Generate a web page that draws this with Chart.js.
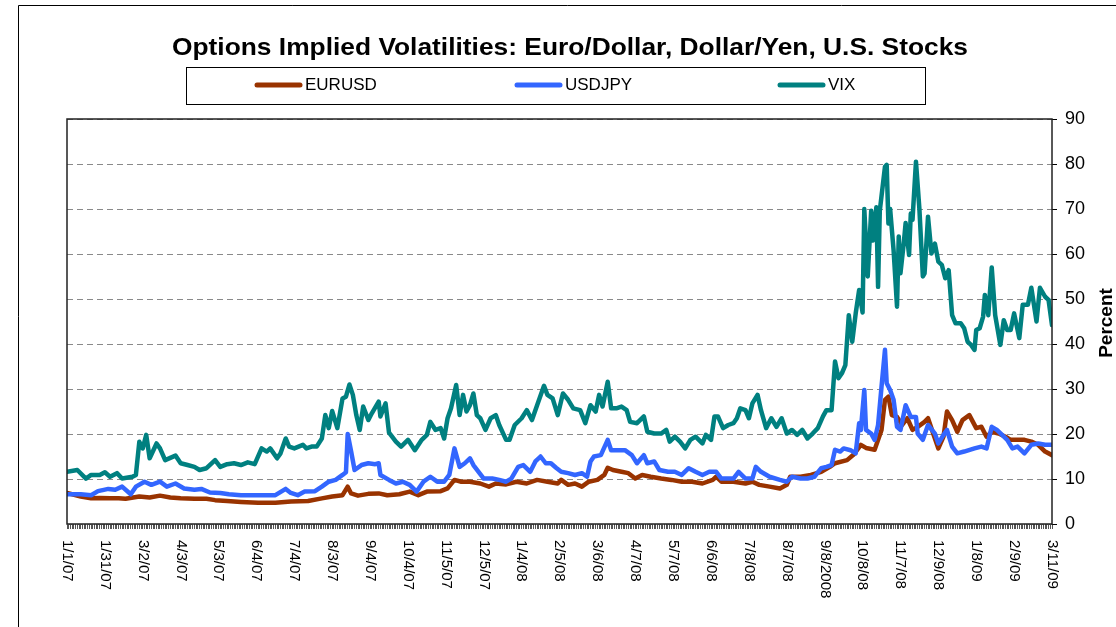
<!DOCTYPE html>
<html lang="en">
<head>
    <meta charset="UTF-8">
    <title>Options Implied Volatilities</title>
    <script src="https://cdn.jsdelivr.net/npm/chart.js"></script>
    <style>
        body { margin: 0; background: #fff; }
    </style>
</head>
<body>
    <canvas id="volChart" width="1116" height="627"></canvas>

    <script>
        // x values are trading-day index (0 = 1/1/07, 572 = 3/11/09), a date label every 22 days
        const tickLabels = ['1/1/07', '1/31/07', '3/2/07', '4/3/07', '5/3/07', '6/4/07', '7/4/07', '8/3/07',
            '9/4/07', '10/4/07', '11/5/07', '12/5/07', '1/4/08', '2/5/08', '3/6/08', '4/7/08', '5/7/08',
            '6/6/08', '7/8/08', '8/7/08', '9/8/2008', '10/8/08', '11/7/08', '12/9/08', '1/8/09', '2/9/09', '3/11/09'];
        const labelEvery = 22;
        const lastDay = 572;
        const yTicks = [0, 10, 20, 30, 40, 50, 60, 70, 80, 90];

        const eurDays = [0, 8, 14, 19, 25, 30, 34, 42, 48, 54, 60, 66, 74, 81, 86, 93, 101, 111, 121, 130, 140, 148, 154, 160, 163, 165, 169, 175, 181, 186,
            193, 199, 204, 209, 217, 221, 225, 229, 234, 240, 245, 249, 255, 261, 267, 273, 279, 285, 287, 291, 295, 299, 303, 308, 312, 314, 317, 322, 326, 330,
            334, 339, 345, 351, 357, 363, 369, 375, 377, 380, 387, 394, 398, 402, 408, 414, 418, 420, 426, 432, 438, 443, 446, 453, 457, 461, 464, 469, 473, 475,
            477, 479, 482, 485, 488, 491, 494, 498, 500, 503, 506, 509, 511, 514, 517, 520, 524, 528, 531, 534, 537, 541, 545, 548, 552, 556, 560, 564, 568, 572];
        const eurVals = [6.9, 6.1, 5.7, 5.8, 5.7, 5.7, 5.6, 6.1, 5.9, 6.3, 5.9, 5.7, 5.6, 5.6, 5.3, 5.1, 4.9, 4.7, 4.7, 5.0, 5.1, 5.7, 6.1, 6.4, 8.3, 6.8, 6.3, 6.7, 6.8, 6.4,
            6.6, 7.2, 6.4, 7.2, 7.3, 7.9, 9.8, 9.4, 9.4, 9.0, 8.3, 9.0, 8.8, 9.4, 9.0, 9.8, 9.4, 9.0, 9.8, 8.7, 9.0, 8.3, 9.4, 9.8, 10.9, 12.5, 12.0, 11.6, 11.3, 10.1,
            10.9, 10.5, 10.1, 9.8, 9.4, 9.4, 9.0, 9.8, 10.5, 9.4, 9.4, 9.0, 9.4, 8.7, 8.3, 7.9, 8.7, 10.5, 10.5, 10.9, 11.6, 12.7, 13.5, 14.2, 15.5, 17.6, 16.9, 16.5, 20.9, 27.6,
            28.3, 24.2, 23.8, 22.0, 23.5, 20.9, 21.6, 22.7, 23.5, 20.1, 16.8, 19.4, 25.0, 23.1, 20.5, 23.1, 24.2, 21.3, 21.6, 19.4, 20.5, 20.1, 19.4, 18.7, 18.7, 18.7, 18.3, 17.6, 16.1, 15.3];

        const jpyDays = [0, 8, 14, 18, 24, 28, 32, 37, 40, 45, 49, 54, 58, 63, 68, 74, 78, 83, 89, 94, 101, 111, 121, 127, 130, 134, 138, 144, 148, 152,
            156, 160, 162, 163, 165, 167, 171, 175, 179, 181, 182, 187, 191, 195, 199, 203, 207, 211, 215, 219, 222, 225, 228, 231, 234, 236, 239, 242, 247, 251,
            255, 258, 262, 265, 269, 272, 275, 278, 281, 284, 287, 291, 295, 299, 302, 304, 306, 310, 314, 316, 320, 324, 328, 331, 335, 337, 341, 344, 349, 353,
            357, 361, 365, 369, 373, 377, 380, 383, 387, 390, 394, 398, 400, 403, 408, 414, 418, 421, 426, 430, 434, 438, 441, 444, 446, 449, 451, 455, 458, 460,
            461, 463, 464, 467, 469, 471, 473, 475, 476, 478, 480, 482, 484, 487, 490, 493, 494, 497, 500, 504, 506, 509, 511, 514, 517, 521, 527, 531, 534, 537,
            540, 543, 546, 549, 552, 556, 560, 564, 568, 572];
        const jpyVals = [6.6, 6.6, 6.4, 7.3, 7.8, 7.6, 8.3, 6.6, 8.3, 9.4, 8.7, 9.4, 8.3, 9.0, 7.9, 7.6, 7.8, 7.0, 6.9, 6.6, 6.4, 6.4, 6.4, 7.8, 6.9, 6.4, 7.2, 7.3, 8.3, 9.4,
            9.8, 10.9, 11.5, 20.0, 16.1, 12.0, 13.1, 13.5, 13.3, 13.5, 10.9, 9.8, 9.0, 9.4, 8.7, 7.2, 9.4, 10.5, 9.4, 9.4, 10.9, 16.8, 12.7, 13.5, 14.6, 13.1, 11.6, 10.1, 10.1, 9.8,
            9.4, 10.1, 12.7, 13.1, 11.6, 13.9, 15.0, 13.5, 13.5, 12.5, 11.6, 11.3, 10.9, 11.3, 10.5, 13.9, 15.0, 15.3, 18.7, 16.4, 16.4, 16.4, 15.3, 13.5, 15.3, 13.5, 13.9, 12.0, 11.6, 11.6,
            10.9, 12.4, 11.6, 10.9, 11.6, 11.6, 10.1, 10.1, 10.1, 11.6, 10.1, 10.1, 12.7, 11.6, 10.5, 9.8, 9.4, 10.5, 10.1, 10.1, 10.5, 12.4, 12.7, 13.1, 16.5, 16.1, 16.8, 16.4, 15.7, 22.4,
            20.9, 29.8, 20.9, 20.1, 18.7, 22.0, 30.5, 38.7, 31.3, 29.8, 27.6, 21.6, 20.9, 26.4, 23.8, 23.8, 20.1, 18.7, 22.0, 20.1, 17.9, 19.8, 20.9, 17.2, 15.7, 16.1, 16.8, 17.2, 16.8, 21.6,
            20.9, 19.8, 18.7, 16.8, 17.2, 15.7, 17.6, 17.9, 17.6, 17.6];

        const vixDays = [0, 6, 11, 14, 19, 22, 25, 29, 32, 38, 40, 42, 44, 46, 48, 52, 54, 57, 63, 66, 70, 74, 77, 81, 86, 89, 93, 97, 101, 105,
            109, 113, 116, 118, 122, 124, 127, 129, 132, 137, 139, 142, 145, 148, 150, 152, 154, 157, 160, 162, 164, 166, 168, 170, 172, 175, 177, 181, 182, 185,
            187, 191, 194, 198, 202, 206, 209, 211, 214, 217, 219, 221, 223, 226, 228, 230, 232, 234, 236, 238, 240, 243, 246, 249, 251, 255, 257, 260, 264, 267,
            270, 273, 277, 279, 282, 285, 288, 291, 294, 298, 301, 304, 307, 309, 311, 314, 316, 319, 322, 325, 327, 331, 335, 337, 341, 345, 348, 350, 353, 356,
            359, 362, 365, 369, 371, 374, 376, 378, 381, 384, 387, 389, 391, 394, 396, 398, 401, 403, 406, 409, 412, 415, 418, 421, 424, 427, 430, 433, 436, 439,
            441, 444, 446, 448, 450, 452, 454, 456, 458, 460, 462, 463, 465, 467, 468, 470, 471, 472, 475, 476, 477, 478, 480, 482, 483, 484, 486, 487, 489, 490,
            491, 493, 495, 497, 498, 500, 502, 504, 506, 508, 510, 512, 514, 516, 519, 521, 523, 525, 527, 528, 530, 532, 533, 535, 537, 539, 542, 544, 546, 548,
            550, 553, 555, 558, 560, 563, 565, 568, 570, 572];
        const vixVals = [11.6, 12.0, 10.1, 10.9, 10.9, 11.5, 10.5, 11.3, 10.1, 10.5, 10.9, 18.3, 16.8, 19.8, 14.6, 17.9, 16.8, 14.2, 15.2, 13.5, 13.1, 12.7, 12.0, 12.4, 14.2, 12.7, 13.3, 13.5, 13.1, 13.7,
            13.3, 16.8, 16.1, 16.8, 14.6, 15.7, 19.0, 17.2, 16.8, 17.6, 16.8, 17.2, 17.2, 19.0, 24.2, 21.3, 25.1, 21.3, 27.9, 28.3, 31.0, 28.7, 24.2, 20.9, 26.1, 23.1, 24.6, 27.2, 23.9, 26.8,
            20.3, 18.3, 17.2, 18.7, 16.4, 18.7, 19.8, 22.7, 20.9, 21.3, 19.0, 23.5, 25.7, 30.9, 24.2, 28.7, 25.0, 26.4, 29.0, 24.2, 23.5, 20.9, 23.5, 24.2, 22.0, 18.7, 18.7, 22.0, 23.5, 25.3,
            23.1, 26.4, 30.7, 28.7, 27.9, 24.2, 29.0, 27.6, 25.7, 25.3, 22.4, 26.4, 25.0, 28.7, 26.1, 31.6, 25.7, 25.7, 26.1, 25.3, 22.7, 22.4, 23.9, 20.5, 20.1, 20.1, 20.9, 18.3, 19.4, 18.3,
            16.8, 18.7, 19.4, 17.9, 19.8, 18.7, 23.9, 23.9, 21.3, 22.0, 22.4, 23.5, 25.7, 25.3, 23.5, 26.8, 28.7, 25.3, 21.3, 23.5, 21.6, 23.5, 20.1, 20.9, 19.8, 20.9, 19.0, 20.1, 21.3, 23.9,
            25.3, 25.3, 36.1, 32.4, 33.5, 35.3, 46.4, 40.5, 46.8, 52.0, 47.0, 70.0, 55.0, 69.6, 63.0, 70.4, 52.7, 69.6, 79.4, 79.8, 66.8, 70.0, 60.9, 48.3, 63.9, 55.7, 62.7, 66.9, 59.8, 69.0,
            67.6, 80.5, 70.0, 55.0, 55.7, 68.3, 60.1, 62.3, 58.3, 57.6, 54.6, 56.4, 46.4, 44.6, 44.6, 43.5, 40.5, 39.8, 38.7, 43.1, 43.5, 46.1, 50.9, 46.4, 57.0, 46.4, 39.8, 45.3, 43.1, 43.1,
            46.8, 41.3, 48.7, 48.7, 52.5, 45.0, 52.5, 50.5, 49.8, 44.2];

        function toPoints(days, vals) {
            return days.map((d, i) => ({ x: d, y: vals[i] }));
        }

        const FONT = '"Liberation Sans", Arial, sans-serif';

        // draws text squeezed or stretched to a given width (the original uses a wider face)
        function fillFitted(ctx, text, x, y, width) {
            const w = ctx.measureText(text).width;
            ctx.save();
            ctx.translate(x, y);
            ctx.scale(width / w, 1);
            ctx.fillText(text, 0, 0);
            ctx.restore();
        }

        // title, legend box, rotated date labels, axis title and frames
        const decorations = {
            id: 'decorations',
            afterDraw(chart) {
                const ctx = chart.ctx;
                const area = chart.chartArea;
                const xs = chart.scales.x;

                ctx.save();
                ctx.fillStyle = '#000';

                // outer chart frame (left and top edges show in the picture)
                ctx.strokeStyle = '#000';
                ctx.lineWidth = 1;
                ctx.beginPath();
                ctx.moveTo(18.5, 627);
                ctx.lineTo(18.5, 5.5);
                ctx.lineTo(1116, 5.5);
                ctx.stroke();

                ctx.font = 'bold 24px ' + FONT;
                ctx.textAlign = 'center';
                ctx.textBaseline = 'middle';
                fillFitted(ctx, 'Options Implied Volatilities: Euro/Dollar, Dollar/Yen, U.S. Stocks', 570, 48, 796);

                // legend
                ctx.lineWidth = 1;
                ctx.strokeRect(186.5, 67.5, 739, 37);
                const legendX = [257, 517, 780];
                ctx.font = '17px ' + FONT;
                ctx.textAlign = 'left';
                chart.data.datasets.forEach((ds, i) => {
                    const lx = legendX[i];
                    ctx.strokeStyle = ds.borderColor;
                    ctx.lineWidth = 5;
                    ctx.lineCap = 'round';
                    ctx.beginPath();
                    ctx.moveTo(lx, 85);
                    ctx.lineTo(lx + 43, 85);
                    ctx.stroke();
                    ctx.fillText(ds.label, lx + 48, 85);
                });

                // plot frame
                ctx.strokeStyle = '#222';
                ctx.lineWidth = 1.5;
                ctx.lineCap = 'butt';
                ctx.strokeRect(area.left, area.top, area.right - area.left, area.bottom - area.top);

                // date labels, read top to bottom
                ctx.font = '15px ' + FONT;
                ctx.textAlign = 'left';
                ctx.textBaseline = 'middle';
                tickLabels.forEach((lab, i) => {
                    const px = xs.getPixelForValue(i * labelEvery);
                    ctx.save();
                    ctx.translate(px, area.bottom + 16);
                    ctx.rotate(Math.PI / 2);
                    ctx.fillText(lab, 0, 0);
                    ctx.restore();
                });

                // right axis title
                ctx.font = 'bold 19px ' + FONT;
                ctx.textAlign = 'center';
                ctx.save();
                ctx.translate(1107, 323);
                ctx.rotate(-Math.PI / 2);
                ctx.fillText('Percent', 0, 0);
                ctx.restore();

                ctx.restore();
            }
        };

        const lineStyle = {
            borderWidth: 4.5,
            pointRadius: 0,
            tension: 0,
            fill: false,
            borderJoinStyle: 'round',
            borderCapStyle: 'round'
        };

        new Chart(document.getElementById('volChart'), {
            type: 'line',
            data: {
                datasets: [
                    { label: 'EURUSD', data: toPoints(eurDays, eurVals), borderColor: '#993300', order: 3, ...lineStyle },
                    { label: 'USDJPY', data: toPoints(jpyDays, jpyVals), borderColor: '#3366FF', order: 2, ...lineStyle },
                    { label: 'VIX', data: toPoints(vixDays, vixVals), borderColor: '#008080', order: 1, ...lineStyle }
                ]
            },
            options: {
                responsive: false,
                animation: false,
                devicePixelRatio: 1,
                layout: { padding: { left: 67, top: 119, right: 0, bottom: 0 } },
                plugins: {
                    legend: { display: false },
                    title: { display: false },
                    tooltip: { enabled: false }
                },
                scales: {
                    x: {
                        type: 'linear',
                        min: 0,
                        max: lastDay,
                        afterFit: scale => { scale.height = 103; },
                        ticks: {
                            stepSize: 1,
                            autoSkip: false,
                            maxRotation: 0,
                            callback: () => ''
                        },
                        grid: {
                            drawOnChartArea: false,
                            drawTicks: true,
                            tickLength: 5,
                            tickColor: '#555',
                            tickWidth: 1
                        },
                        border: { display: false }
                    },
                    y: {
                        position: 'right',
                        min: 0,
                        max: 90,
                        afterFit: scale => { scale.width = 64; },
                        afterBuildTicks: scale => { scale.ticks = yTicks.map(v => ({ value: v })); },
                        ticks: {
                            color: '#000',
                            padding: 8,
                            font: { family: FONT, size: 18 }
                        },
                        grid: {
                            color: '#8a8a8a',
                            lineWidth: 1,
                            tickLength: 5,
                            tickColor: '#000',
                            tickBorderDash: []
                        },
                        border: { display: false, dash: [6, 4] }
                    }
                }
            },
            plugins: [decorations]
        });
    </script>
</body>
</html>
